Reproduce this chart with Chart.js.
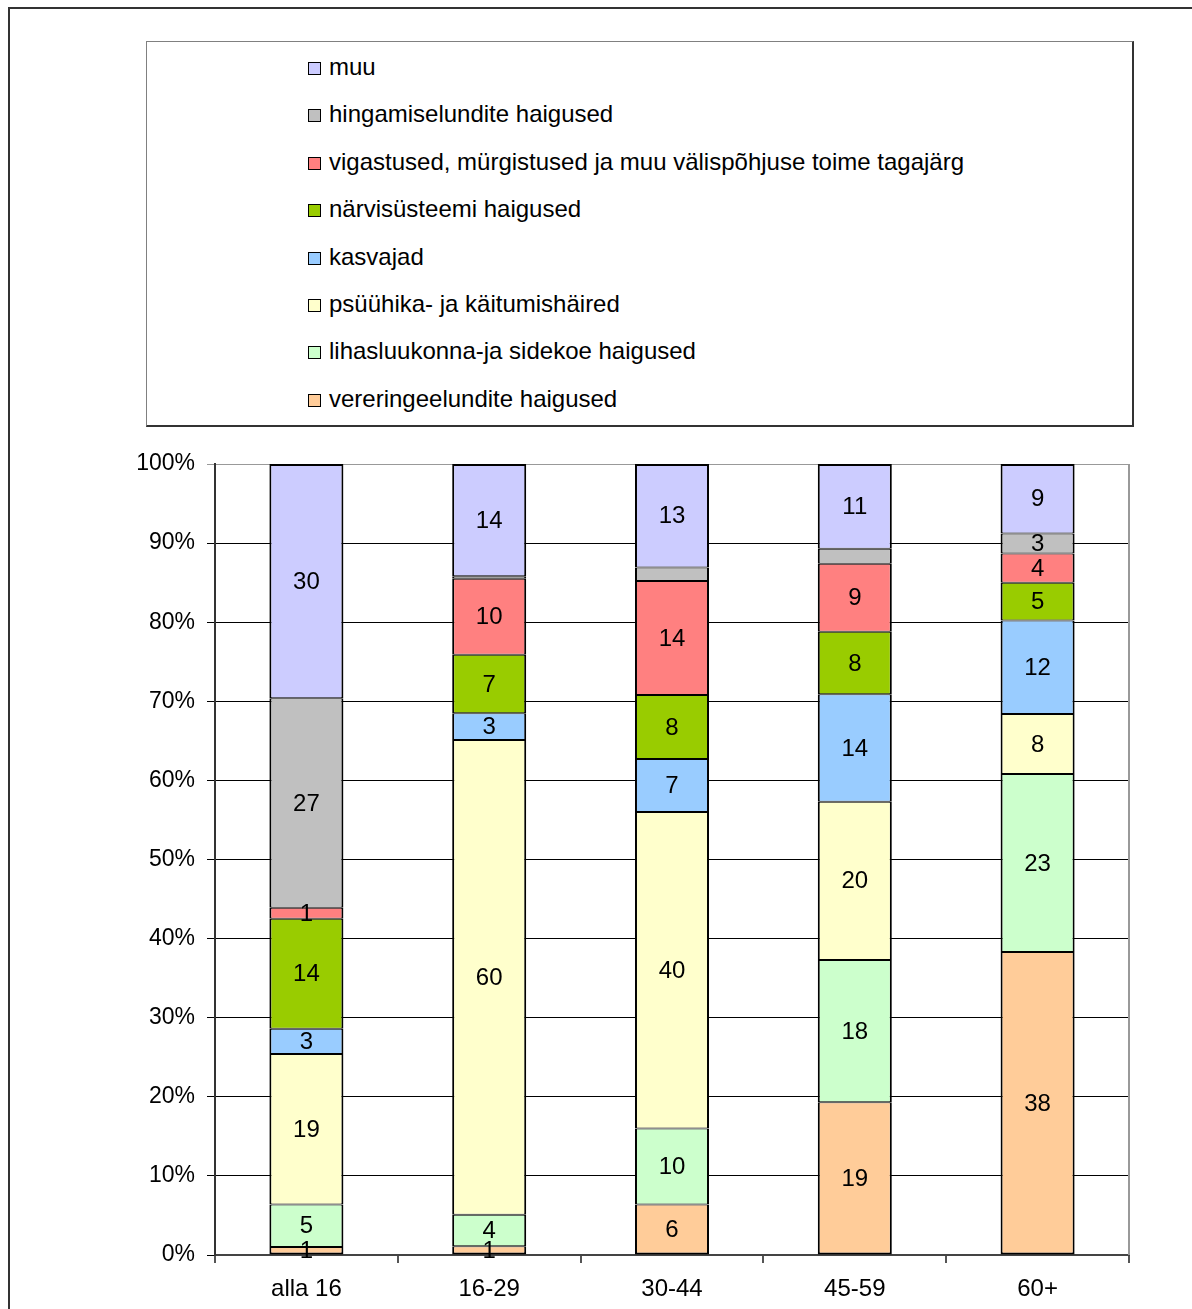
<!DOCTYPE html>
<html>
<head>
<meta charset="utf-8">
<script src="https://cdn.jsdelivr.net/npm/chart.js@4/dist/chart.umd.min.js"></script>
<style>
  body { margin: 0; background: #fff; overflow: hidden; width: 1192px; height: 1309px; position: relative; font-family: 'Liberation Sans', Arial, sans-serif; }
  #frame { position: absolute; left: 8px; top: 7px; width: 1300px; height: 1400px; border-top: 2px solid #333; border-left: 2px solid #333; }
  #legend { position: absolute; left: 146px; top: 41px; width: 985px; height: 383px; border: 1px solid #808080; border-right: 2px solid #333; border-bottom: 2px solid #333; z-index: 2; background: #fff; }
  #legend ul { list-style: none; margin: 0; padding: 1px 0 0 161px; }
  #legend li { height: 47.4px; line-height: 47.4px; font-size: 24px; color: #000; white-space: nowrap; }
  #legend .box { display: inline-block; width: 11px; height: 11px; border: 1px solid #000; margin-right: 8px; vertical-align: 0px; }
  #my-chart { position: absolute; left: 0; top: 0; }
</style>
</head>
<body>
<div id="frame"></div>
<div id="legend"><ul id="legend-list"></ul></div>
<canvas id="my-chart" width="1192" height="1309"></canvas>
<script>
'use strict';

// ************* Data **************
let categories = ['alla 16', '16-29', '30-44', '45-59', '60+'];

// series from bottom of the stack to the top
let vereringe = [1.0, 1.1, 6.4, 19.3, 38.3];
let lihas = [5.4, 4.0, 9.6, 18.0, 22.5];
let psyyhika = [19.0, 60.0, 40.0, 20.0, 7.6];
let kasvajad = [3.2, 3.4, 6.7, 13.6, 11.8];
let narvi = [13.9, 7.4, 8.1, 7.9, 4.8];
let vigastused = [1.4, 9.6, 14.4, 8.6, 3.7];
let hingamis = [26.5, 0.3, 1.7, 1.9, 2.5];
let muu = [29.6, 14.2, 13.1, 10.7, 8.8];

let seriesNames = [
  'vereringeelundite haigused',
  'lihasluukonna-ja sidekoe haigused',
  'psüühika- ja käitumishäired',
  'kasvajad',
  'närvisüsteemi haigused',
  'vigastused, mürgistused ja muu välispõhjuse toime tagajärg',
  'hingamiselundite haigused',
  'muu'
];
let seriesValues = [vereringe, lihas, psyyhika, kasvajad, narvi, vigastused, hingamis, muu];
let seriesColors = ['#FFCC99', '#CCFFCC', '#FFFFCC', '#99CCFF', '#99CC00', '#FF8080', '#C0C0C0', '#CCCCFF'];

let yTicks = [0, 10, 20, 30, 40, 50, 60, 70, 80, 90, 100];

// segments that carry no value label in the original
let unlabeled = [[1, 6], [2, 6], [3, 6]];

// ************* Legend (top of list = top of stack) **************
let legendList = document.getElementById('legend-list');
for (let i = seriesNames.length - 1; i >= 0; i--) {
  let li = document.createElement('li');
  let box = document.createElement('span');
  box.className = 'box';
  box.style.background = seriesColors[i];
  li.appendChild(box);
  li.appendChild(document.createTextNode(seriesNames[i]));
  legendList.appendChild(li);
}

// ************* Plugins **************
let valueLabels = {
  id: 'valueLabels',
  afterDatasetsDraw(chart) {
    let ctx = chart.ctx;
    ctx.save();
    ctx.font = '24px "Liberation Sans", Arial, sans-serif';
    ctx.fillStyle = '#000';
    ctx.textAlign = 'center';
    ctx.textBaseline = 'middle';
    chart.data.datasets.forEach((ds, di) => {
      let meta = chart.getDatasetMeta(di);
      meta.data.forEach((bar, ci) => {
        if (unlabeled.some(u => u[0] === ci && u[1] === di)) return;
        let cy = (bar.y + bar.base) / 2;
        ctx.fillText(String(Math.round(ds.data[ci])), bar.x, cy + 1);
      });
    });
    ctx.restore();
  }
};

let plotFrame = {
  id: 'plotFrame',
  afterDraw(chart) {
    let a = chart.chartArea;
    let ctx = chart.ctx;
    ctx.save();
    ctx.strokeStyle = '#999';
    ctx.lineWidth = 2;
    ctx.beginPath();
    ctx.moveTo(a.right, a.top);
    ctx.lineTo(a.right, a.bottom);
    ctx.stroke();
    ctx.restore();
  }
};

// ************* Chart **************
let datasets = [];
let last = seriesNames.length - 1;
for (let i = 0; i < seriesNames.length; i++) {
  datasets.push({
    label: seriesNames[i],
    data: seriesValues[i],
    backgroundColor: seriesColors[i],
    borderColor: '#000',
    borderWidth: { left: 2, right: 2, top: i === last ? 2 : 1, bottom: i === 0 ? 2 : 1 },
    borderSkipped: false,
    barPercentage: 0.405,
    categoryPercentage: 1
  });
}

Chart.defaults.font.family = '"Liberation Sans", Arial, sans-serif';
Chart.defaults.font.size = 23;
Chart.defaults.color = '#000';

new Chart(document.getElementById('my-chart'), {
  type: 'bar',
  data: { labels: categories, datasets: datasets },
  options: {
    responsive: false,
    animation: false,
    layout: { padding: { top: 464, right: 63, left: 0, bottom: 0 } },
    plugins: { legend: { display: false }, tooltip: { enabled: false } },
    scales: {
      x: {
        stacked: true,
        afterFit: s => { s.height = 54; },
        grid: { drawOnChartArea: false, drawTicks: true, tickLength: 8, color: '#555', lineWidth: 2, offset: true },
        border: { color: '#444', width: 2 },
        ticks: { padding: 12, font: { size: 24 } }
      },
      y: {
        stacked: true,
        min: 0,
        max: 100,
        afterFit: s => { s.width = 215; },
        afterBuildTicks: s => { s.ticks = yTicks.map(v => ({ value: v })); },
        grid: {
          color: c => (c.tick && c.tick.value === 100 ? '#999' : '#000'),
          lineWidth: 1,
          tickLength: 8
        },
        border: { color: '#333', width: 2 },
        ticks: { padding: 12, callback: v => v + '%', font: { size: 23 } }
      }
    }
  },
  plugins: [valueLabels, plotFrame]
});
</script>
</body>
</html>
